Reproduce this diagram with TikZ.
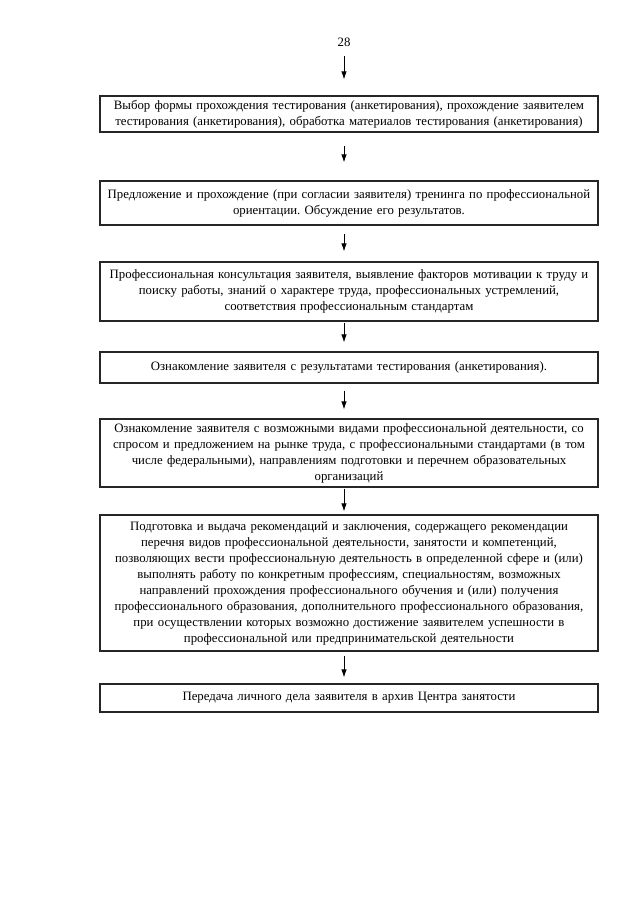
\documentclass[tikz,border=0pt]{standalone}
\usepackage{fontspec}
\setmainfont{Liberation Serif}
\usetikzlibrary{arrows.meta,positioning}
\frenchspacing

\begin{document}
\begin{tikzpicture}[x=1pt, y=-1pt,
    stepbox/.style={rectangle, draw=black!85, line width=1.1pt,
        minimum width=498pt, text width=492pt, inner xsep=3pt, inner ysep=2pt,
        align=center, font=\fontsize{12.8}{16}\selectfont},
    arr/.style={-{Latex[length=8pt,width=5.5pt]}, line width=0.9pt}
]
    \useasboundingbox (0,0) rectangle (639,905);
    \node[font=\fontsize{12.8}{16}\selectfont] (page) at (344,42) {28};

    \node[stepbox, minimum height=36pt] (choice) at (349,114) {Выбор формы прохождения тестирования (анкетирования), прохождение заявителем\\тестирования (анкетирования), обработка материалов тестирования (анкетирования)};
    \node[stepbox, minimum height=44pt] (training) at (349,203) {Предложение и прохождение (при согласии заявителя) тренинга по профессиональной\\ориентации. Обсуждение его результатов.};
    \node[stepbox, minimum height=59pt] (consult) at (349,291.5) {Профессиональная консультация заявителя, выявление факторов мотивации к труду и\\поиску работы, знаний о характере труда, профессиональных устремлений,\\соответствия профессиональным стандартам};
    \node[stepbox, minimum height=31pt] (results) at (349,367.5) {Ознакомление заявителя с результатами тестирования (анкетирования).};
    \node[stepbox, minimum height=68pt] (kinds) at (349,453) {Ознакомление заявителя с возможными видами профессиональной деятельности, со\\спросом и предложением на рынке труда, с профессиональными стандартами (в том\\числе федеральными), направлениям подготовки и перечнем образовательных\\организаций};
    \node[stepbox, minimum height=136pt] (advice) at (349,583) {Подготовка и выдача рекомендаций и заключения, содержащего рекомендации\\перечня видов профессиональной деятельности, занятости и компетенций,\\позволяющих вести профессиональную деятельность в определенной сфере и (или)\\выполнять работу по конкретным профессиям, специальностям, возможных\\направлений прохождения профессионального обучения и (или) получения\\профессионального образования, дополнительного профессионального образования,\\при осуществлении которых возможно достижение заявителем успешности в\\профессиональной или предпринимательской деятельности};
    \node[stepbox, minimum height=28pt] (archive) at (349,698) {Передача личного дела заявителя в архив Центра занятости};

    \draw[arr, shorten <=6pt, shorten >=16pt] (page) -- (choice.north -| page);
    \draw[arr, shorten <=13pt, shorten >=18pt] (choice.south -| page) -- (training.north -| page);
    \draw[arr, shorten <=8pt, shorten >=10pt] (training.south -| page) -- (consult.north -| page);
    \draw[arr, shorten <=1pt, shorten >=9pt] (consult.south -| page) -- (results.north -| page);
    \draw[arr, shorten <=7pt, shorten >=9pt] (results.south -| page) -- (kinds.north -| page);
    \draw[arr, shorten <=1pt, shorten >=3pt] (kinds.south -| page) -- (advice.north -| page);
    \draw[arr, shorten <=4pt, shorten >=6pt] (advice.south -| page) -- (archive.north -| page);
\end{tikzpicture}
\end{document}
